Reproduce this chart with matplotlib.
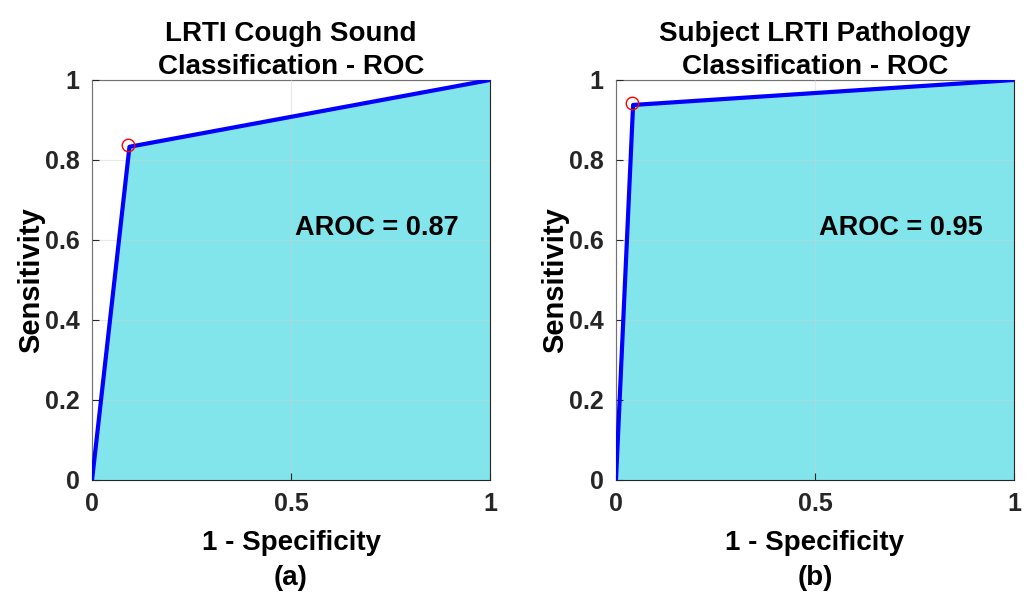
import numpy as np
import matplotlib
matplotlib.use("Agg")
import matplotlib.pyplot as plt

plt.rcParams['font.family'] = ['Liberation Sans', 'DejaVu Sans']
plt.rcParams['font.weight'] = 'bold'

# ROC points
fpr_a = [0, 0.094, 1]
tpr_a = [0, 0.833, 1]
fpr_b = [0, 0.043, 1]
tpr_b = [0, 0.9375, 1]

titles = ["LRTI Cough Sound\nClassification - ROC",
          "Subject LRTI Pathology\nClassification - ROC"]
aroc = [0.87, 0.95]
panel = ["(a)", "(b)"]

fill_col = "#82E5EB"
axis_col = "#262626"

fig = plt.figure(figsize=(10.33, 5.95), dpi=100)
ax1 = fig.add_axes([0.0891, 0.1933, 0.3853, 0.6723])
ax2 = fig.add_axes([0.5963, 0.1933, 0.3853, 0.6723])

for i, (ax, fx, ty) in enumerate([(ax1, fpr_a, tpr_a), (ax2, fpr_b, tpr_b)]):
    ax.fill_between(fx, ty, 0, color=fill_col, zorder=1, linewidth=0)
    ax.grid(True, color="#d0d0d0", linewidth=0.8, alpha=0.45, zorder=2)
    ax.set_axisbelow(False)
    ax.plot(fx, ty, color="blue", linewidth=3, zorder=3)
    ax.plot(fx[1] - 0.004, ty[1] + 0.004, marker='o', markersize=9,
            markerfacecolor='none', markeredgecolor='red', markeredgewidth=1.0, zorder=4)
    ax.set_xlim(0, 1)
    ax.set_ylim(0, 1)
    ax.set_xticks([0, 0.5, 1])
    ax.set_xticklabels(["0", "0.5", "1"])
    ax.set_yticks([0, 0.2, 0.4, 0.6, 0.8, 1])
    ax.set_yticklabels(["0", "0.2", "0.4", "0.6", "0.8", "1"])
    ax.tick_params(direction='in', length=5, width=0.8, colors=axis_col,
                   labelsize=18, pad=9)
    for lab in ax.get_xticklabels() + ax.get_yticklabels():
        lab.set_fontweight('bold')
    for sp in ax.spines.values():
        sp.set_color(axis_col)
        sp.set_linewidth(0.8)
    ax.set_title(titles[i], fontsize=20, fontweight='bold', pad=3, linespacing=1.35)
    ax.set_xlabel("1 - Specificity\n" + panel[i], fontsize=20, fontweight='bold',
                  labelpad=10, linespacing=1.45)
    ax.set_ylabel("Sensitivity", fontsize=21, fontweight='bold', labelpad=0)
    ax.text(0.51, 0.63, "AROC = %.2f" % aroc[i], fontsize=19.5, fontweight='bold',
            ha='left', va='center', zorder=5)

fig.savefig("out.png", dpi=100)
